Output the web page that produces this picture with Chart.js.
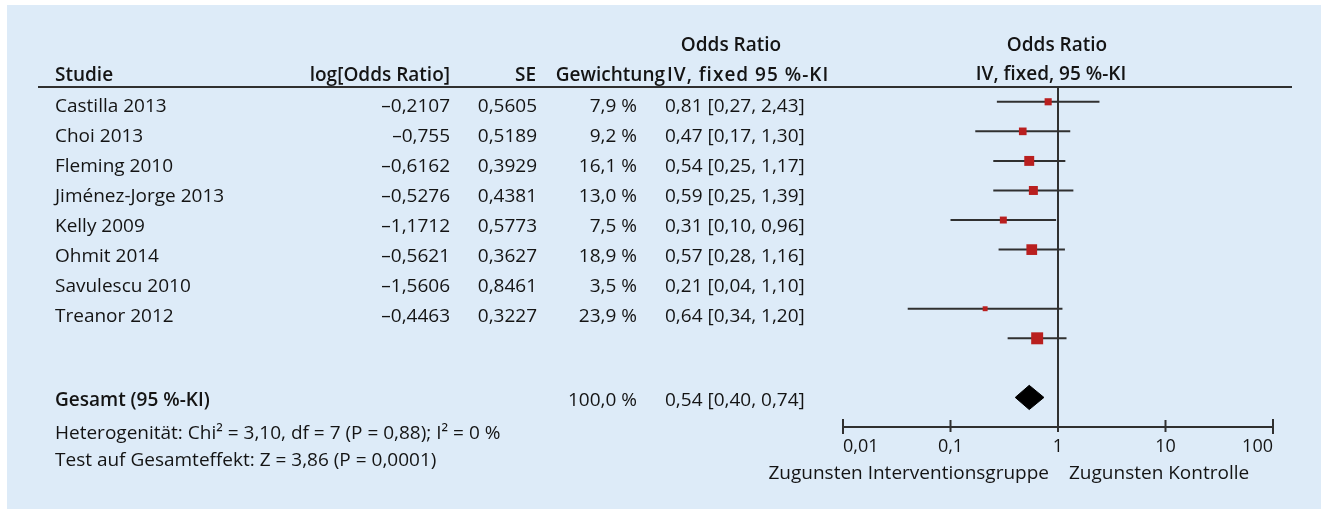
<!DOCTYPE html>
<html lang="de">
<head>
<meta charset="UTF-8">
<title>Forest Plot – Odds Ratio</title>
<script src="https://cdn.jsdelivr.net/npm/chart.js@4.4.1/dist/chart.umd.min.js"></script>
<style>
  html, body { margin: 0; padding: 0; background: #fff; }
  canvas { display: block; }
</style>
</head>
<body>
<canvas id="forest" width="1321" height="509"></canvas>

<script>
// --- data ---
const studies = ['Castilla 2013', 'Choi 2013', 'Fleming 2010', 'Jiménez-Jorge 2013',
                 'Kelly 2009', 'Ohmit 2014', 'Savulescu 2010', 'Treanor 2012'];
const logOddsRatio = [-0.2107, -0.755, -0.6162, -0.5276, -1.1712, -0.5621, -1.5606, -0.4463];
const standardError = [0.5605, 0.5189, 0.3929, 0.4381, 0.5773, 0.3627, 0.8461, 0.3227];
const weightPct = [7.9, 9.2, 16.1, 13.0, 7.5, 18.9, 3.5, 23.9];
const oddsRatio = [0.81, 0.47, 0.54, 0.59, 0.31, 0.57, 0.21, 0.64];
const ciLow = [0.27, 0.17, 0.25, 0.25, 0.10, 0.28, 0.04, 0.34];
const ciHigh = [2.43, 1.30, 1.17, 1.39, 0.96, 1.16, 1.10, 1.20];

const pooledOR = 0.54;
const pooledLow = 0.40;
const pooledHigh = 0.74;
const pooledWeight = 100.0;

const xTicks = [0.01, 0.1, 1, 10, 100];
// rows of the plot panel (the original leaves an empty row before Savulescu)
const plotRows = ['Castilla 2013', 'Choi 2013', 'Fleming 2010', 'Jiménez-Jorge 2013',
                  'Kelly 2009', 'Ohmit 2014', '', 'Savulescu 2010', 'Treanor 2012', '', 'Gesamt'];

const FONT = '"Open Sans", "Noto Sans", sans-serif';
const FS = 19;
const INK = '#141414';
const LINE = '#303030';
const RED = '#b91f1f';

const num = v => String(v).replace('.', ',').replace('-', '\u2013');
const fix = (v, d) => v.toFixed(d).replace('.', ',');
const orText = (o, l, h) => `${fix(o, 2)} [${fix(l, 2)}, ${fix(h, 2)}]`;

// --- datasets ---
const rowOf = name => plotRows.indexOf(name);
const gesamtRow = rowOf('Gesamt');
const diamondHalf = 0.41;

const markerSet = {
  data: studies.map((s, i) => ({ x: oddsRatio[i], y: rowOf(s) })),
  showLine: false,
  pointStyle: 'rect',
  pointRadius: weightPct.map(w => 1.65 * Math.sqrt(w) + 0.4),
  pointBackgroundColor: RED,
  pointBorderWidth: 0
};

const whiskerSets = studies.map((s, i) => ({
  data: [{ x: ciLow[i], y: rowOf(s) }, { x: ciHigh[i], y: rowOf(s) }],
  borderColor: LINE,
  borderWidth: 2,
  pointRadius: 0,
  fill: false
}));

const diamondTop = {
  data: [{ x: pooledLow, y: gesamtRow }, { x: pooledOR, y: gesamtRow - diamondHalf }, { x: pooledHigh, y: gesamtRow }],
  borderColor: '#000', borderWidth: 1, pointRadius: 0,
  backgroundColor: '#000', fill: '+1'
};
const diamondBottom = {
  data: [{ x: pooledLow, y: gesamtRow }, { x: pooledOR, y: gesamtRow + diamondHalf }, { x: pooledHigh, y: gesamtRow }],
  borderColor: '#000', borderWidth: 1, pointRadius: 0, fill: false
};

// --- background, axis line, reference line and the table text ---
const forestDecor = {
  id: 'forestDecor',
  beforeDraw(chart) {
    const ctx = chart.ctx;
    ctx.save();
    ctx.fillStyle = '#ddebf8';
    ctx.fillRect(7, 5, chart.width - 7, chart.height - 5);
    ctx.restore();
  },
  afterDatasetsDraw(chart) {
    const { ctx, chartArea: area, scales: { x } } = chart;
    ctx.save();
    ctx.strokeStyle = LINE;
    ctx.lineWidth = 2;
    ctx.lineCap = 'butt';

    // header rule
    ctx.beginPath();
    ctx.moveTo(38, area.top);
    ctx.lineTo(1292, area.top);
    ctx.stroke();

    // line of no effect
    const x1 = x.getPixelForValue(1);
    ctx.beginPath();
    ctx.moveTo(x1, area.top);
    ctx.lineTo(x1, area.bottom + 5);
    ctx.stroke();

    // x axis with ticks above and below
    const xa = x.getPixelForValue(xTicks[0]);
    const xb = x.getPixelForValue(xTicks[xTicks.length - 1]);
    ctx.beginPath();
    ctx.moveTo(xa, area.bottom);
    ctx.lineTo(xb, area.bottom);
    ctx.stroke();
    xTicks.forEach((t, k) => {
      const end = k === 0 || k === xTicks.length - 1;
      const px = x.getPixelForValue(t);
      ctx.beginPath();
      ctx.moveTo(px, area.bottom - (end ? 8 : 7));
      ctx.lineTo(px, area.bottom + (end ? 7 : 5));
      ctx.stroke();
    });
    ctx.restore();
  },
  afterDraw(chart) {
    const { ctx, chartArea: area } = chart;
    const top = area.top;
    const bold = `600 ${FS}px ${FONT}`;
    const reg = `${FS}px ${FONT}`;
    const put = (t, px, py, align, font) => {
      ctx.font = font || reg;
      ctx.textAlign = align;
      ctx.fillText(t, px, py);
    };
    ctx.save();
    ctx.fillStyle = INK;
    ctx.textBaseline = 'alphabetic';

    // headers
    put('Odds Ratio', 731, top - 36, 'center', bold);
    put('Odds Ratio', 1057, top - 36, 'center', bold);
    put('Studie', 55, top - 6, 'left', bold);
    put('log[Odds Ratio]', 450, top - 6, 'right', bold);
    put('SE', 536, top - 6, 'right', bold);
    put('Gewichtung', 665, top - 6, 'right', bold);
    ctx.letterSpacing = '1px';
    put('IV, fixed 95 %-KI', 667, top - 6, 'left', bold);
    ctx.letterSpacing = '0px';
    put('IV, fixed, 95 %-KI', 1051, top - 7, 'center', bold);

    // study rows
    studies.forEach((s, i) => {
      const by = top + 25 + 30 * i;
      put(s, 55, by, 'left');
      put(num(logOddsRatio[i]), 450, by, 'right');
      put(num(standardError[i]), 537, by, 'right');
      put(fix(weightPct[i], 1) + ' %', 637, by, 'right');
      put(orText(oddsRatio[i], ciLow[i], ciHigh[i]), 665, by, 'left');
    });

    // pooled row and statistics
    put('Gesamt (95 %-KI)', 55, top + 319, 'left', bold);
    put(fix(pooledWeight, 1) + ' %', 637, top + 319, 'right');
    put(orText(pooledOR, pooledLow, pooledHigh), 665, top + 319, 'left');
    put('Heterogenität: Chi² = 3,10, df = 7 (P = 0,88); I² = 0 %', 55, top + 352, 'left');
    put('Test auf Gesamteffekt: Z = 3,86 (P = 0,0001)', 55, top + 379, 'left');

    // direction labels
    put('Zugunsten Interventionsgruppe', 1049, top + 392, 'right');
    put('Zugunsten Kontrolle', 1069, top + 392, 'left');
    ctx.restore();
  }
};

new Chart(document.getElementById('forest'), {
  type: 'line',
  data: { datasets: [markerSet, ...whiskerSets, diamondTop, diamondBottom] },
  options: {
    responsive: false,
    animation: false,
    events: [],
    layout: { padding: { left: 843, right: 48, top: 87, bottom: 52 } },
    plugins: { legend: { display: false }, tooltip: { enabled: false } },
    scales: {
      x: {
        type: 'logarithmic',
        min: 0.01,
        max: 100,
        afterBuildTicks: s => { s.ticks = xTicks.map(v => ({ value: v })); },
        afterFit: s => { s.height = 30; },
        grid: { display: false, drawTicks: false },
        border: { display: false },
        ticks: {
          align: 'inner',
          padding: 9,
          autoSkip: false,
          maxRotation: 0,
          color: INK,
          font: { family: FONT, size: 18 },
          callback: v => String(v).replace('.', ',')
        }
      },
      y: { type: 'linear', min: -0.5, max: 11, reverse: true, display: false }
    }
  },
  plugins: [forestDecor]
});
</script>
</body>
</html>
